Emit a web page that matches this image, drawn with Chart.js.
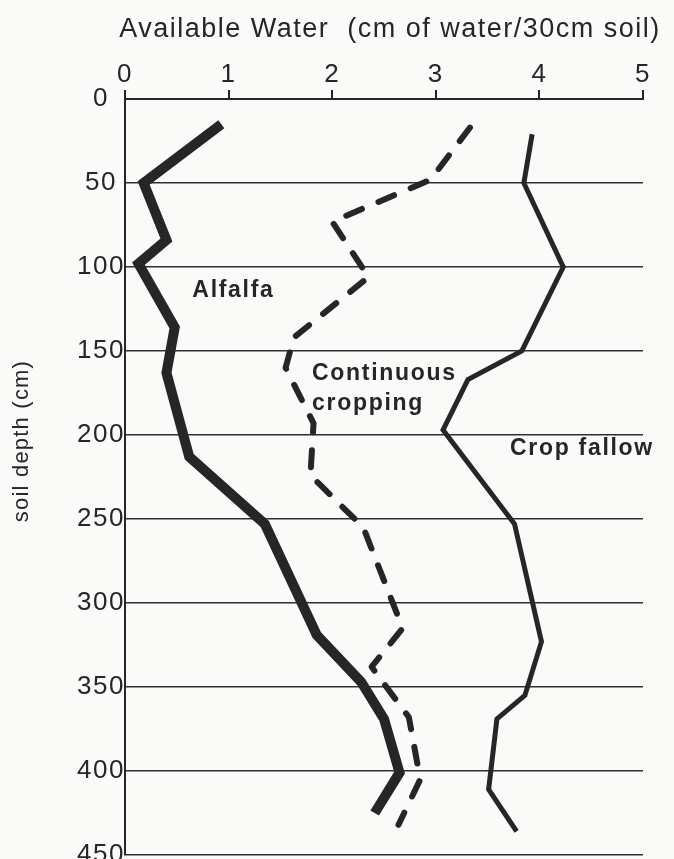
<!DOCTYPE html>
<html>
<head>
<meta charset="utf-8">
<script src="https://cdn.jsdelivr.net/npm/chart.js@4.4.1/dist/chart.umd.min.js"></script>
<style>
html,body{margin:0;padding:0;background:#fafaf8;}
canvas{display:block;}
</style>
</head>
<body>
<canvas id="c" width="674" height="859"></canvas>
<script>
// ---- data ----
const xAxisTitle = 'Available Water  (cm of water/30cm soil)';
const yAxisTitle = 'soil depth (cm)';
const waterTicks = [0, 1, 2, 3, 4, 5];
const depthTicks = [0, 50, 100, 150, 200, 250, 300, 350, 400, 450];

const alfalfaDepth = [15, 50, 84, 98, 136, 163, 213, 253, 319, 347, 369, 401, 425];
const alfalfaWater = [0.93, 0.18, 0.40, 0.13, 0.48, 0.40, 0.62, 1.35, 1.85, 2.28, 2.50, 2.65, 2.41];

const contDepth = [17, 48, 73, 106, 142, 160, 193, 224, 255, 315, 338, 368, 405, 432];
const contWater = [3.33, 2.95, 2.00, 2.35, 1.63, 1.55, 1.82, 1.79, 2.30, 2.68, 2.38, 2.74, 2.85, 2.64];

const fallowDepth = [21, 50, 100, 150, 167, 197, 253, 323, 355, 369, 411, 436];
const fallowWater = [3.93, 3.85, 4.23, 3.83, 3.31, 3.07, 3.76, 4.02, 3.86, 3.59, 3.51, 3.78];

const seriesLabels = [
  {lines: ['Alfalfa'], water: 0.65, depth: 118},
  {lines: ['Continuous', 'cropping'], water: 1.805, depth: 167},
  {lines: ['Crop fallow'], water: 3.716, depth: 212}
];

// ---- build ----
const ink = '#262626';
const FONT = '"Liberation Sans", Arial, Helvetica, sans-serif';
const toPts = (w, d) => w.map((v, i) => ({x: v, y: d[i]}));

const spacing = {
  id: 'spacing',
  beforeLayout(c) { c.ctx.letterSpacing = '1.5px'; },
  beforeDraw(c) { c.ctx.letterSpacing = '1.5px'; }
};

const texts = {
  id: 'texts',
  afterDraw(c) {
    const ctx = c.ctx, xs = c.scales.x, ys = c.scales.y;
    // top title
    ctx.save();
    ctx.fillStyle = ink;
    ctx.letterSpacing = '1.5px';
    ctx.font = '27px ' + FONT;
    ctx.textAlign = 'center';
    ctx.textBaseline = 'middle';
    ctx.fillText(xAxisTitle, (xs.left + xs.right) / 2 + 6, 30);
    ctx.restore();
    // in-plot series labels
    ctx.save();
    ctx.fillStyle = ink;
    ctx.letterSpacing = '1.7px';
    ctx.font = 'bold 23px ' + FONT;
    ctx.textAlign = 'left';
    ctx.textBaseline = 'alphabetic';
    seriesLabels.forEach(l => {
      const x = xs.getPixelForValue(l.water);
      const y = ys.getPixelForValue(l.depth);
      l.lines.forEach((t, i) => ctx.fillText(t, x, y + i * 30));
    });
    ctx.restore();
    // y title
    ctx.save();
    ctx.fillStyle = ink;
    ctx.letterSpacing = '1.2px';
    ctx.font = '22px ' + FONT;
    ctx.textAlign = 'center';
    ctx.textBaseline = 'middle';
    ctx.translate(22, 441);
    ctx.rotate(-Math.PI / 2);
    ctx.fillText(yAxisTitle, 0, 0);
    ctx.restore();
  }
};

new Chart(document.getElementById('c'), {
  type: 'line',
  data: {
    datasets: [
      {label: 'Alfalfa', data: toPts(alfalfaWater, alfalfaDepth), borderColor: ink, borderWidth: 10,
       borderJoinStyle: 'miter', borderCapStyle: 'butt', pointRadius: 0, tension: 0, fill: false},
      {label: 'Continuous cropping', data: toPts(contWater, contDepth), borderColor: ink, borderWidth: 6,
       borderDash: [17, 18], borderCapStyle: 'round', borderJoinStyle: 'round', pointRadius: 0, tension: 0, fill: false},
      {label: 'Crop fallow', data: toPts(fallowWater, fallowDepth), borderColor: ink, borderWidth: 5,
       borderJoinStyle: 'miter', borderCapStyle: 'butt', pointRadius: 0, tension: 0, fill: false}
    ]
  },
  options: {
    indexAxis: 'y',
    responsive: false,
    animation: false,
    devicePixelRatio: 1,
    layout: {padding: {left: 0, right: 31, top: 0, bottom: 4}},
    plugins: {legend: {display: false}, tooltip: {enabled: false}, title: {display: false}},
    scales: {
      x: {
        type: 'linear', position: 'top', min: 0, max: 5,
        afterBuildTicks: s => { s.ticks = waterTicks.map(v => ({value: v})); },
        afterFit: s => { s.height = 99; s.paddingLeft = 0; s.paddingRight = 0; },
        ticks: {color: ink, font: {family: FONT, size: 26}, padding: 0, maxRotation: 0, autoSkip: false},
        grid: {drawOnChartArea: false, drawTicks: true, tickLength: 9, color: ink, lineWidth: 2},
        border: {display: true, color: ink, width: 2},
        title: {display: false}
      },
      y: {
        type: 'linear', position: 'left', reverse: true, min: 0, max: 450,
        afterBuildTicks: s => { s.ticks = depthTicks.map(v => ({value: v})); },
        afterFit: s => { s.width = 125; s.paddingTop = 0; s.paddingBottom = 0; },
        ticks: {color: ink, font: {family: FONT, size: 26}, padding: 0, crossAlign: 'center', autoSkip: false},
        grid: {drawTicks: false, color: '#303030', lineWidth: 1.5},
        border: {display: true, color: ink, width: 2}
      }
    }
  },
  plugins: [spacing, texts]
});
</script>
</body>
</html>
